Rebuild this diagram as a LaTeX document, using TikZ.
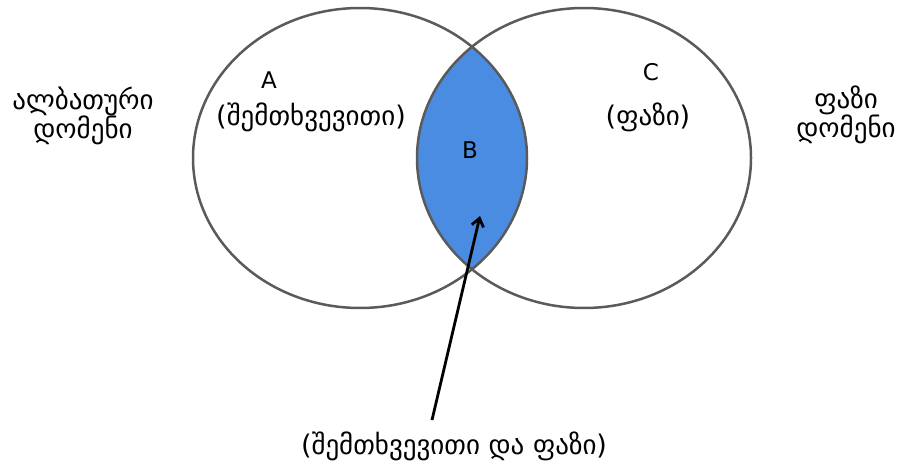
\documentclass[tikz,border=0pt]{standalone}
\usepackage{fontspec}
\setmainfont{DejaVu Sans}
\usetikzlibrary{arrows.meta}
\definecolor{setblue}{RGB}{74,140,226}
\definecolor{rimgray}{RGB}{90,90,90}

\begin{document}
\begin{tikzpicture}[x=1pt, y=-1pt, >={Straight Barb[length=8pt,width=12pt]},
  txt/.style={font=\fontsize{23}{27}\selectfont, inner sep=0pt, align=center},
  geo/.style={font=\fontsize{27}{29}\selectfont, inner sep=0pt, align=center},
  rim/.style={line width=2.5pt, rimgray}]
  \useasboundingbox (0,0) rectangle (902,468);

  % Overlap of the two domains
  \begin{scope}
    \clip (360,158) ellipse [x radius=167, y radius=150];
    \fill[setblue] (584,158) ellipse [x radius=167, y radius=150];
  \end{scope}

  % Domains
  \draw[rim] (360,158) ellipse [x radius=167, y radius=150];
  \draw[rim] (584,158) ellipse [x radius=167, y radius=150];

  % Labels inside
  \node[txt] (a) at (269,80) {A};
  \node[geo] (arand) at (311,117) {(შემთხვევითი)};
  \node[txt] (b) at (470,150) {B};
  \node[txt] (c) at (651,72) {C};
  \node[geo] (cfuzz) at (648,117) {(ფაზი)};

  % Labels outside
  \node[geo] (prob) at (83,116) {ალბათური\\დომენი};
  \node[geo] (fuzz) at (846,115) {ფაზი\\დომენი};
  \node[geo] (both) at (454,446) {(შემთხვევითი და ფაზი)};

  % Pointer into the overlap
  \coordinate (tail) at (432,420);
  \coordinate (tip) at (480,216);
  \draw[->, line width=2.8pt, black] (tail) -- (tip);
\end{tikzpicture}
\end{document}
